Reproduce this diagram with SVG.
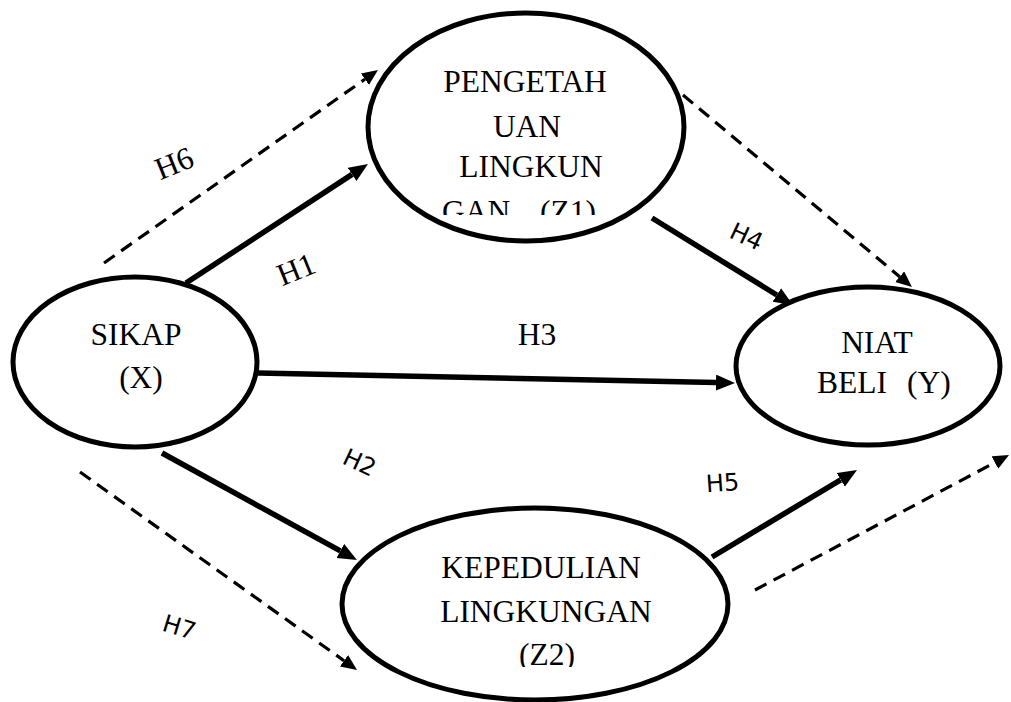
<svg xmlns="http://www.w3.org/2000/svg" width="1011" height="702" viewBox="0 0 1011 702">
<style>
.node{fill:#fff;stroke:#000;stroke-width:5}
.t{font-family:"Liberation Serif","Times New Roman",serif;font-size:31.5px;fill:#000}
.s{font-family:"DejaVu Sans","Liberation Sans",sans-serif;font-size:24px;fill:#000}
.solid{stroke:#000;stroke-width:5.5;fill:none}
.dash{stroke:#000;stroke-width:3.2;fill:none;stroke-dasharray:13 8}
</style>
<defs>
<marker id="ah" markerUnits="userSpaceOnUse" markerWidth="22" markerHeight="18" refX="0" refY="8" orient="auto"><path d="M0,0 L19,8 L0,16 z" fill="#000"/></marker>
<marker id="ahd" markerUnits="userSpaceOnUse" markerWidth="18" markerHeight="16" refX="0" refY="7" orient="auto"><path d="M0,0 L16,7 L0,14 z" fill="#000"/></marker>
<clipPath id="c1"><rect x="360" y="0" width="340" height="215"/></clipPath>
<clipPath id="c2"><rect x="330" y="500" width="400" height="167"/></clipPath>
</defs>
<rect width="1011" height="702" fill="#fff"/>
<g id="connectors">
<line class="solid" x1="186" y1="283" x2="352.1" y2="174.4" marker-end="url(#ah)"/>
<line class="dash" x1="104" y1="263" x2="364.9" y2="79.2" marker-end="url(#ahd)"/>
<line class="solid" x1="258" y1="373" x2="716" y2="382.6" marker-end="url(#ah)"/>
<line class="solid" x1="652" y1="218" x2="776.8" y2="295" marker-end="url(#ah)"/>
<line class="dash" x1="683" y1="95" x2="899.7" y2="276.7" marker-end="url(#ahd)"/>
<line class="solid" x1="162" y1="453" x2="340.3" y2="550.9" marker-end="url(#ah)"/>
<line class="dash" x1="80" y1="472" x2="344" y2="660.7" marker-end="url(#ahd)"/>
<line class="solid" x1="712" y1="557" x2="840.7" y2="479.8" marker-end="url(#ah)"/>
<line class="dash" x1="755" y1="590" x2="994.9" y2="462.5" marker-end="url(#ahd)"/>
<text class="t" font-size="30" text-anchor="middle" transform="translate(178,173) rotate(-22)">H6</text>
<text class="t" font-size="30" text-anchor="middle" transform="translate(300,279) rotate(-22)">H1</text>
<text class="t" x="537" y="345" text-anchor="middle">H3</text>
<text class="s" text-anchor="middle" transform="translate(743,244) rotate(25)">H4</text>
<text class="s" text-anchor="middle" transform="translate(356,470) rotate(25)">H2</text>
<text class="s" text-anchor="middle" transform="translate(723,491) rotate(-4)">H5</text>
<text class="s" text-anchor="middle" transform="translate(177,635) rotate(17)">H7</text>
</g>
<g id="node-sikap">
<ellipse class="node" cx="135" cy="362" rx="122" ry="85"/>
<text class="t" x="136" y="345" text-anchor="middle">SIKAP</text>
<text class="t" x="141" y="388" text-anchor="middle">(X)</text>
</g>
<g id="node-pengetahuan">
<ellipse class="node" cx="526" cy="127" rx="158" ry="114"/>
<text class="t" x="525" y="92" text-anchor="middle">PENGETAH</text>
<text class="t" x="527" y="137" text-anchor="middle">UAN</text>
<text class="t" x="531" y="177" text-anchor="middle">LINGKUN</text>
<text class="t" y="222" clip-path="url(#c1)"><tspan x="442">GAN</tspan><tspan x="540">(Z1)</tspan></text>
</g>
<g id="node-niat">
<ellipse class="node" cx="868" cy="366" rx="132" ry="79"/>
<text class="t" x="877" y="353" text-anchor="middle">NIAT</text>
<text class="t" y="393"><tspan x="817">BELI</tspan><tspan x="907">(Y)</tspan></text>
</g>
<g id="node-kepedulian">
<ellipse class="node" cx="535" cy="604" rx="193" ry="96"/>
<text class="t" x="541" y="578" text-anchor="middle">KEPEDULIAN</text>
<text class="t" x="546" y="622" text-anchor="middle">LINGKUNGAN</text>
<text class="t" x="547" y="665" text-anchor="middle" clip-path="url(#c2)">(Z2)</text>
</g>
</svg>
